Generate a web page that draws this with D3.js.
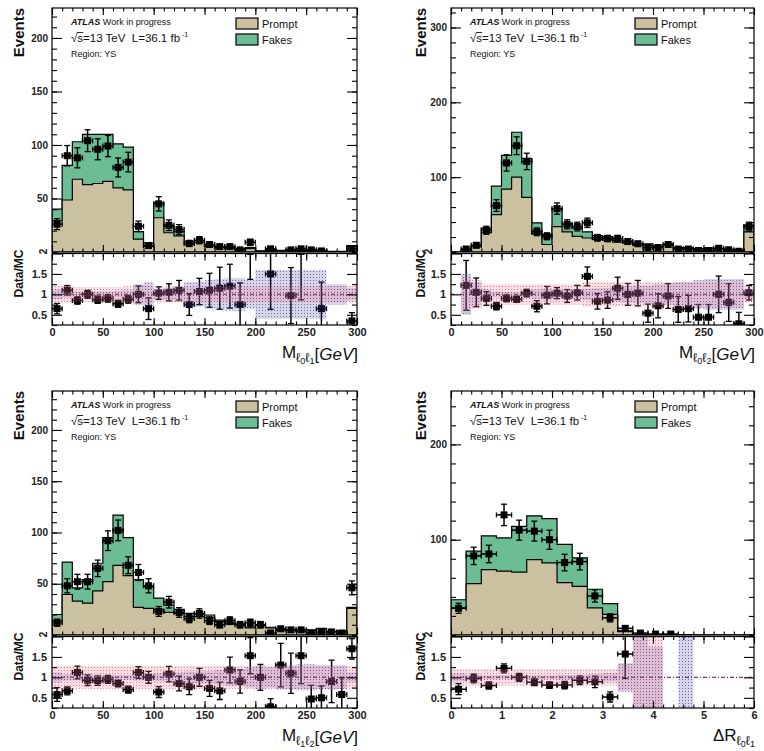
<!DOCTYPE html>
<html><head><meta charset="utf-8">
<script src="https://cdn.jsdelivr.net/npm/d3@7"></script>
<style>
body{margin:0;background:#fff}
svg text{font-family:"Liberation Sans",Arial,Helvetica,sans-serif}
</style>
</head><body>
<svg id="c" width="764" height="751"></svg>
<script>
// ---------------- DATA ----------------
const massEdges = [0,10,20,30,40,50,60,70,80,90,100,110,120,130,140,150,160,170,180,190,200,210,220,230,240,250,260,270,280,290,300];
const drEdges = [0,0.3,0.6,0.9,1.2,1.5,1.8,2.1,2.4,2.7,3.0,3.3,3.6,3.9,4.2,4.5,4.8,5.1,5.4,5.7,6.0];
const massTicks = [0,50,100,150,200,250,300];
const drTicks = [0,1,2,3,4,5,6];
const ratioTicks = [0.5,1,1.5,2];

// Panel 1: M_l0l1
const prompt1 = [29,48.6,68,63,64,66,60,58,12,5.3,32,18,15,7.5,9,5.5,4,3.5,2.5,3.2,0.8,1.6,1.2,1.6,1.2,1.2,1.2,0.4,0.4,5];
const fakes1  = [11,32.4,35,47,46,44,41,40,7,3.2,14,6,4,2.5,2,1.5,1,1,0.5,0.8,0.2,0.4,0.3,0.4,0.3,0.3,0.3,0.1,0.1,1];
const data1   = [26,90,88,104,96,99,79,84,24,6,45,25,21,8,11,7,5,5,2,9,0,3,0,2,3,2,1,0,0,3];
const ratio1  = [0.65,1.1,0.85,1.0,0.87,0.9,0.77,0.88,1.0,0.65,1.03,1.05,1.1,0.75,1.07,1.1,1.15,1.2,0.75,2.05,null,1.5,null,0.97,2.05,null,0.65,null,null,0.35];
const sys1    = [0.2,0.2,0.18,0.18,0.18,0.18,0.18,0.2,0.22,0.22,0.18,0.2,0.2,0.2,0.2,0.2,0.2,0.2,0.2,0.2,0.2,0.2,0.2,0.2,0.2,0.2,0.2,0.2,0.2,0.2];
const stat1   = [0.12,0.08,0.07,0.07,0.07,0.07,0.08,0.1,0.25,0.3,0.12,0.15,0.18,0.3,0.3,0.35,0.38,0.4,0.4,0.35,0.6,0.6,0.6,0.6,0.6,0.6,0.6,0.25,0.25,0.15];

// Panel 2: M_l0l2
const prompt2 = [0,2.5,7,26,50,84,100,73,24,10,34,27,21,18.7,17,16,13,12,9,9,7,9,5,5,4,4.5,4,3.2,2.5,27];
const fakes2  = [0,0.5,1.5,6,38,45,60,52,15,13,24,11,11,8.3,5,4.5,3,2.5,1.5,2,1,1.5,1,1,0.5,1,0.5,0.5,0.5,9];
const data2   = [0,4,9,29,62,119,142,121,27,21,58,37,34,39,19,18,18,14,11,6,6,10,4,4,2,2,5,3,1,34];
const ratio2  = [null,1.22,1.05,0.9,0.71,0.9,0.88,1.03,0.71,0.98,1.03,0.96,1.04,1.44,0.83,0.86,1.15,1.0,1.03,0.54,0.72,0.96,0.63,0.65,0.44,0.44,1.0,0.8,0.28,1.04];
const sys2    = [0,0.45,0.35,0.25,0.25,0.25,0.25,0.25,0.25,0.25,0.25,0.25,0.25,0.3,0.3,0.3,0.3,0.3,0.3,0.3,0.3,0.3,0.3,0.3,0.3,0.32,0.32,0.32,0.32,0.2];
const stat2   = [0,0.5,0.3,0.12,0.07,0.06,0.05,0.06,0.12,0.15,0.1,0.12,0.12,0.14,0.15,0.16,0.18,0.2,0.22,0.22,0.25,0.25,0.3,0.3,0.35,0.38,0.38,0.38,0.38,0.12];

// Panel 3: M_l1l2
const prompt3 = [14,39.5,33,31,43,52,68,58,27,26,25,22,21,18,18,17,13,10.5,10,7,9,7,4.5,4.5,3.3,4.5,6,3.3,3.7,26];
const fakes3  = [6,31.5,13,23,27,43,49,37,27,21,11,7,4,3,2.5,2.5,1.5,1,0.8,0.8,0.7,0.5,0.5,0.5,0.3,0.4,0.4,0.3,0.3,1];
const data3   = [12,48,52,52,65,92,102,68,61,48,23,32,22,16,21,14,10,14,10,12,10,2,6,5,5,2,3,3,2,46];
const ratio3  = [0.58,0.67,1.12,0.93,0.92,0.95,0.85,0.7,1.12,1.0,0.64,1.08,0.85,0.77,1.0,0.73,0.67,1.18,0.9,1.53,1.0,0.28,1.3,1.1,1.53,0.47,0.5,0.9,0.58,1.7];
const sys3    = [0.28,0.28,0.28,0.28,0.28,0.28,0.28,0.28,0.28,0.28,0.28,0.28,0.28,0.28,0.28,0.28,0.28,0.28,0.28,0.28,0.28,0.28,0.28,0.28,0.28,0.28,0.28,0.28,0.28,0.28];
const stat3   = [0.12,0.08,0.08,0.08,0.07,0.06,0.06,0.06,0.08,0.08,0.1,0.12,0.12,0.14,0.15,0.15,0.18,0.2,0.2,0.25,0.3,0.25,0.3,0.3,0.32,0.32,0.3,0.3,0.3,0.12];

// Panel 4: DeltaR_l0l1
const prompt4 = [28.5,54,68.6,67,66,79,75.6,55,51,28.5,21.6,3.5,0.4,0.3,0,0.2,0,0,0,0];
const fakes4  = [8.5,34,35.4,35,48,46,46.4,40,30,19.5,11.4,1,0.2,0.2,0,0,0,0,0,0];
const data4   = [28,83,85,126,110,109,100,76,77,41,18,7,2,1,1,0,0,0,0,0];
const ratio4  = [0.71,0.97,0.8,1.22,1.0,0.88,0.81,0.81,0.93,0.89,0.52,1.57,null,null,null,null,null,null,null,null];
const sys4    = [0.2,0.2,0.2,0.2,0.2,0.2,0.2,0.2,0.2,0.2,0.2,0.32,1.2,1.2,0,0,0,0,0,0];
const stat4   = [0.1,0.06,0.05,0.05,0.05,0.05,0.05,0.06,0.06,0.08,0.1,0.35,1.2,0.75,0,1.2,0,0,0,0];

const PROMPT_COL = "#cbc09f";
const FAKE_COL = "#6cbd94";

// ---------------- DRAW ----------------
const svg = d3.select("#c");
const defs = svg.append("defs");
function dotPattern(id, bg, color){
  const p = defs.append("pattern").attr("id",id).attr("width",3).attr("height",3).attr("patternUnits","userSpaceOnUse");
  p.append("rect").attr("width",3).attr("height",3).attr("fill",bg);
  p.append("rect").attr("x",1).attr("y",1).attr("width",1).attr("height",1).attr("fill",color);
}
dotPattern("pinkDots","rgba(222,110,135,0.22)","rgba(190,50,80,0.55)");
dotPattern("blueDots","rgba(70,70,160,0.22)","rgba(40,40,130,0.6)");

const panels = [
 {id:1, l:52, r:357, mt:8, mb:252, rt:253.5, rb:325, ymax:228, ymaj:[50,100,150,200], ymin:10,
  edges:massEdges, xt:massTicks, xmin:10, prompt:prompt1, fakes:fakes1, data:data1, ratio:ratio1, sys:sys1, stat:stat1,
  tmain:"M", sub:["0","1"], units:true, evX:24, twoX:47},
 {id:2, l:451, r:754, mt:8, mb:252, rt:253.5, rb:325, ymax:326, ymaj:[100,200,300], ymin:20,
  edges:massEdges, xt:massTicks, xmin:10, prompt:prompt2, fakes:fakes2, data:data2, ratio:ratio2, sys:sys2, stat:stat2,
  tmain:"M", sub:["0","2"], units:true, evX:425.5, twoX:432},
 {id:3, l:52, r:357, mt:391, mb:635, rt:636.5, rb:708, ymax:238, ymaj:[50,100,150,200], ymin:10,
  edges:massEdges, xt:massTicks, xmin:10, prompt:prompt3, fakes:fakes3, data:data3, ratio:ratio3, sys:sys3, stat:stat3,
  tmain:"M", sub:["1","2"], units:true, evX:24, twoX:47},
 {id:4, l:451, r:754, mt:391, mb:635, rt:636.5, rb:708, ymax:256, ymaj:[100,200], ymin:20,
  edges:drEdges, xt:drTicks, xmin:0.2, prompt:prompt4, fakes:fakes4, data:data4, ratio:ratio4, sys:sys4, stat:stat4,
  tmain:"ΔR", sub:["0","1"], units:false, evX:425.5, twoX:432}
];

function minorTicks(lo, hi, step){
  const out = [];
  for(let v = lo; v <= hi + 1e-9; v += step) out.push(+v.toFixed(6));
  return out;
}

function drawPoints(g, pts, x, yc, yhi, ylo){
  const sel = g.append("g").selectAll("g").data(pts).join("g");
  sel.append("line").attr("x1",d=>x(d.lo)).attr("x2",d=>x(d.hi)).attr("y1",yc).attr("y2",yc)
     .attr("stroke","#000").attr("stroke-width",1.5);
  sel.append("line").attr("x1",d=>x(d.lo)).attr("x2",d=>x(d.lo)).attr("y1",d=>yc(d)-2.5).attr("y2",d=>yc(d)+2.5)
     .attr("stroke","#000").attr("stroke-width",1.3);
  sel.append("line").attr("x1",d=>x(d.hi)).attr("x2",d=>x(d.hi)).attr("y1",d=>yc(d)-2.5).attr("y2",d=>yc(d)+2.5)
     .attr("stroke","#000").attr("stroke-width",1.3);
  sel.append("line").attr("x1",d=>x((d.lo+d.hi)/2)).attr("x2",d=>x((d.lo+d.hi)/2)).attr("y1",yhi).attr("y2",ylo)
     .attr("stroke","#000").attr("stroke-width",1.5);
  sel.append("line").attr("x1",d=>x((d.lo+d.hi)/2)-3).attr("x2",d=>x((d.lo+d.hi)/2)+3).attr("y1",yhi).attr("y2",yhi)
     .attr("stroke","#000").attr("stroke-width",1.3);
  sel.append("line").attr("x1",d=>x((d.lo+d.hi)/2)-3).attr("x2",d=>x((d.lo+d.hi)/2)+3).attr("y1",ylo).attr("y2",ylo)
     .attr("stroke","#000").attr("stroke-width",1.3);
  sel.append("rect").attr("x",d=>x((d.lo+d.hi)/2)-3.5).attr("y",d=>yc(d)-3.5).attr("width",7).attr("height",7).attr("fill","#000");
}

function styleAxis(g, fs){
  g.select(".domain").remove();
  g.selectAll(".tick line").attr("stroke","#000").attr("stroke-width",1.1);
  g.selectAll(".tick text").attr("font-size",fs).attr("font-weight","bold").attr("fill","#222")
   .attr("font-family","'Liberation Sans',Arial,sans-serif");
}

function drawPanel(p){
  const g = svg.append("g");
  const x = d3.scaleLinear().domain([p.edges[0], p.edges[p.edges.length-1]]).range([p.l, p.r]);
  const y = d3.scaleLinear().domain([0, p.ymax]).range([p.mb, p.mt]);
  const yr = d3.scaleLinear().domain([0.25, 2]).range([p.rb, p.rt]);
  defs.append("clipPath").attr("id","cm"+p.id).append("rect")
    .attr("x",p.l).attr("y",p.mt).attr("width",p.r-p.l).attr("height",p.mb-p.mt);
  defs.append("clipPath").attr("id","cr"+p.id).append("rect")
    .attr("x",p.l).attr("y",p.rt).attr("width",p.r-p.l).attr("height",p.rb-p.rt);

  const nb = p.prompt.length;
  const total = p.prompt.map((v,i)=>v+p.fakes[i]);
  const stepPts = vals => p.edges.map((e,i)=>[e, vals[Math.min(i,nb-1)]]);
  const area = d3.area().curve(d3.curveStepAfter).x(d=>x(d[0])).y0(y(0)).y1(d=>y(d[1]));

  // main
  const gm = g.append("g").attr("clip-path",`url(#cm${p.id})`);
  gm.append("path").attr("d",area(stepPts(total))).attr("fill",FAKE_COL).attr("stroke","#000").attr("stroke-width",1.2);
  gm.append("path").attr("d",area(stepPts(p.prompt))).attr("fill",PROMPT_COL).attr("stroke","#000").attr("stroke-width",1.2);
  const mpts = p.data.map((v,i)=>({v, lo:p.edges[i], hi:p.edges[i+1]})).filter(d=>d.v>0);
  drawPoints(gm, mpts, x, d=>y(d.v), d=>y(d.v+Math.sqrt(d.v)), d=>y(Math.max(0,d.v-Math.sqrt(d.v))));

  // ratio
  const gr = g.append("g").attr("clip-path",`url(#cr${p.id})`);
  gr.append("line").attr("x1",p.l).attr("x2",p.r).attr("y1",yr(1)).attr("y2",yr(1))
    .attr("stroke","#7a3a6a").attr("stroke-width",1.1).attr("stroke-dasharray","4,2,1,2");
  const rpts = p.ratio.map((v,i)=>({v, n:p.data[i], lo:p.edges[i], hi:p.edges[i+1]})).filter(d=>d.v!==null);
  drawPoints(gr, rpts, x, d=>yr(d.v), d=>yr(d.v + d.v/Math.sqrt(d.n)), d=>yr(d.v - d.v/Math.sqrt(d.n)));
  const bandRects = (arr, fill) => {
    gr.append("g").selectAll("rect")
      .data(arr.map((e,i)=>({e, lo:p.edges[i], hi:p.edges[i+1]})).filter(d=>d.e>0))
      .join("rect")
      .attr("x",d=>x(d.lo)).attr("width",d=>x(d.hi)-x(d.lo))
      .attr("y",d=>yr(1+d.e)).attr("height",d=>yr(1-d.e)-yr(1+d.e))
      .attr("fill",fill);
  };
  bandRects(p.stat, "url(#blueDots)");
  bandRects(p.sys, "url(#pinkDots)");

  // frames
  g.append("rect").attr("x",p.l).attr("y",p.mt).attr("width",p.r-p.l).attr("height",p.mb-p.mt)
    .attr("fill","none").attr("stroke","#000").attr("stroke-width",1.2);
  g.append("rect").attr("x",p.l).attr("y",p.rt).attr("width",p.r-p.l).attr("height",p.rb-p.rt)
    .attr("fill","none").attr("stroke","#000").attr("stroke-width",1.2);

  // main axes
  const xMinor = minorTicks(p.edges[0], p.edges[p.edges.length-1], p.xmin);
  const yMinor = minorTicks(0, p.ymax, p.ymin);
  styleAxis(g.append("g").attr("transform",`translate(${p.l},0)`)
    .call(d3.axisLeft(y).tickValues(p.ymaj).tickSize(-10).tickSizeOuter(0).tickPadding(4).tickFormat(d=>d)), 10);
  styleAxis(g.append("g").attr("transform",`translate(${p.l},0)`)
    .call(d3.axisLeft(y).tickValues(yMinor).tickSize(-5).tickSizeOuter(0).tickFormat("")), 10);
  styleAxis(g.append("g").attr("transform",`translate(${p.r},0)`)
    .call(d3.axisRight(y).tickValues(p.ymaj).tickSize(-10).tickSizeOuter(0).tickFormat("")), 10);
  styleAxis(g.append("g").attr("transform",`translate(${p.r},0)`)
    .call(d3.axisRight(y).tickValues(yMinor).tickSize(-5).tickSizeOuter(0).tickFormat("")), 10);
  [[p.mt,"top"],[p.mb,"bottom"],[p.rt,"top"]].forEach(([yy,side])=>{
    const mk = side==="top" ? d3.axisTop : d3.axisBottom;
    styleAxis(g.append("g").attr("transform",`translate(0,${yy})`)
      .call(mk(x).tickValues(p.xt).tickSize(-7).tickSizeOuter(0).tickFormat("")), 10);
    styleAxis(g.append("g").attr("transform",`translate(0,${yy})`)
      .call(mk(x).tickValues(xMinor).tickSize(-3.5).tickSizeOuter(0).tickFormat("")), 10);
  });
  // ratio axes
  styleAxis(g.append("g").attr("transform",`translate(0,${p.rb})`)
    .call(d3.axisBottom(x).tickValues(p.xt).tickSize(-7).tickSizeOuter(0).tickPadding(3).tickFormat(d=>String(d))), 11);
  styleAxis(g.append("g").attr("transform",`translate(0,${p.rb})`)
    .call(d3.axisBottom(x).tickValues(xMinor).tickSize(-3.5).tickSizeOuter(0).tickFormat("")), 11);
  const rMinor = [0.25,0.75,1.25,1.75];
  styleAxis(g.append("g").attr("transform",`translate(${p.l},0)`)
    .call(d3.axisLeft(yr).tickValues(ratioTicks).tickSize(-10).tickSizeOuter(0).tickPadding(5)
      .tickFormat(d=>d===2?"":String(d))), 11);
  styleAxis(g.append("g").attr("transform",`translate(${p.l},0)`)
    .call(d3.axisLeft(yr).tickValues(rMinor).tickSize(-5).tickSizeOuter(0).tickFormat("")), 11);
  styleAxis(g.append("g").attr("transform",`translate(${p.r},0)`)
    .call(d3.axisRight(yr).tickValues(ratioTicks).tickSize(-10).tickSizeOuter(0).tickFormat("")), 11);
  styleAxis(g.append("g").attr("transform",`translate(${p.r},0)`)
    .call(d3.axisRight(yr).tickValues(rMinor).tickSize(-5).tickSizeOuter(0).tickFormat("")), 11);

  // rotated "2"
  g.append("text").attr("transform",`translate(${p.twoX},${p.rt-2}) rotate(-90)`).attr("text-anchor","middle")
    .attr("font-size",10).attr("font-weight","bold").attr("fill","#222").text("2");

  // axis titles
  g.append("text").attr("transform",`translate(${p.evX},${p.mt}) rotate(-90)`).attr("text-anchor","end")
    .attr("font-size",15).attr("font-weight","bold").attr("fill","#111").text("Events");
  g.append("text").attr("transform",`translate(${p.evX-1},${p.rt-4}) rotate(-90)`).attr("text-anchor","end")
    .attr("font-size",12).attr("font-weight","bold").attr("fill","#111").text("Data/MC");

  const t = g.append("text").attr("x",p.r+1).attr("y",p.rb+33).attr("text-anchor","end")
    .attr("font-size",17).attr("fill","#111");
  t.append("tspan").text(p.tmain);
  t.append("tspan").attr("font-size",13).attr("dy",4).text("ℓ");
  t.append("tspan").attr("font-size",9).attr("dy",2).text(p.sub[0]);
  t.append("tspan").attr("font-size",13).attr("dy",-2).text("ℓ");
  t.append("tspan").attr("font-size",9).attr("dy",2).text(p.sub[1]);
  if(p.units){
    t.append("tspan").attr("dy",-4).text("[");
    t.append("tspan").attr("font-style","italic").text("GeV");
    t.append("tspan").text("]");
  }

  // ATLAS label
  const ax = p.l + 19;
  const a1 = g.append("text").attr("x",ax).attr("y",p.mt+17).attr("font-size",9).attr("fill","#111");
  a1.append("tspan").attr("font-weight","bold").attr("font-style","italic").text("ATLAS");
  a1.append("tspan").text(" Work in progress");
  const a2 = g.append("text").attr("x",ax).attr("y",p.mt+34).attr("font-size",11.5).attr("fill","#111")
    .style("white-space","pre");
  a2.append("tspan").text("√");
  a2.append("tspan").text("s=13 TeV  L=36.1 fb");
  a2.append("tspan").attr("font-size",7).attr("dy",-5).text(" -1");
  const node = a2.node();
  const w1 = node.getSubStringLength(0,1), w2 = node.getSubStringLength(1,1);
  g.append("line").attr("x1",ax+w1-0.5).attr("x2",ax+w1+w2).attr("y1",p.mt+24.5).attr("y2",p.mt+24.5)
    .attr("stroke","#111").attr("stroke-width",0.9);
  g.append("text").attr("x",ax).attr("y",p.mt+48.5).attr("font-size",9).attr("fill","#111").text("Region: YS");

  // legend
  const lx = p.l + 184;
  [["Prompt",PROMPT_COL,10],["Fakes",FAKE_COL,26]].forEach(([lab,col,dy])=>{
    g.append("rect").attr("x",lx).attr("y",p.mt+dy).attr("width",22).attr("height",11)
      .attr("fill",col).attr("stroke","#000").attr("stroke-width",1.2);
    g.append("text").attr("x",lx+26).attr("y",p.mt+dy+9.5).attr("font-size",11).attr("fill","#111").text(lab);
  });
}

panels.forEach(drawPanel);
</script>
</body></html>
